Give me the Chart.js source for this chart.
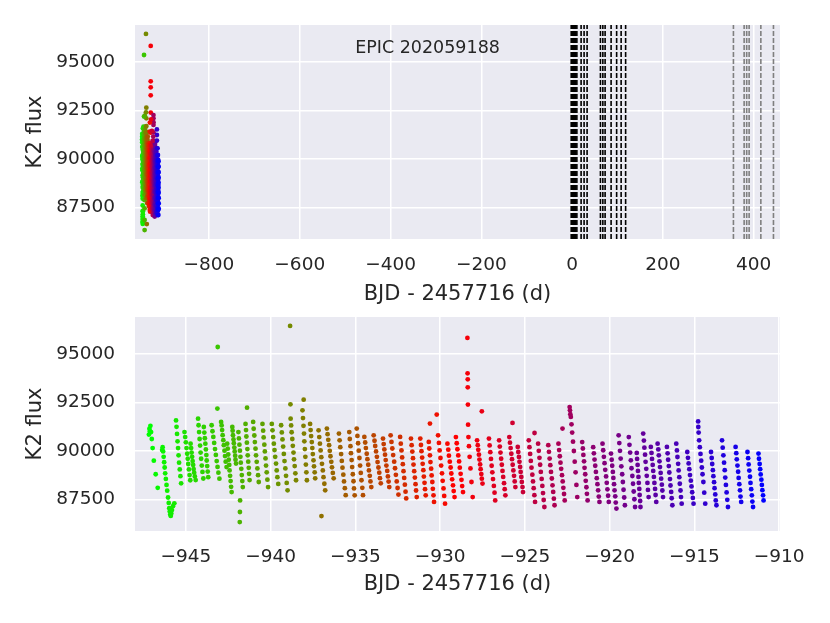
<!DOCTYPE html>
<html lang="en">
<head>
<meta charset="UTF-8">
<title>EPIC 202059188 - K2 flux</title>
<script src="https://cdn.jsdelivr.net/npm/chart.js"></script>
<style>
    body { margin: 0; background: #ffffff; }
    #wrap { position: relative; width: 830px; height: 623px; }
    canvas { position: absolute; left: 0; }
    #topChart { top: 0; width: 830px; height: 312px; }
    #zoomChart { top: 292px; width: 830px; height: 331px; }
</style>
</head>
<body>
<div id="wrap">
    <canvas id="topChart" width="830" height="312"></canvas>
    <canvas id="zoomChart" width="830" height="331"></canvas>
</div>
<script>
// light curve, one line per sawtooth streak
const bjd = [
  -947.18,-947.15,-947.12,-947.09,-947.05,-947.01,-946.96,-946.89,-946.78,-946.66,
  -946.40,-946.37,-946.34,-946.31,-946.28,-946.25,-946.22,-946.18,-946.14,-946.10,
  -946.05,-946.01,-945.98,-945.95,-945.92,-945.89,-945.86,-945.82,-945.76,-945.68,
  -945.58,-945.55,-945.52,-945.49,-945.46,-945.43,-945.40,-945.36,-945.32,-945.28,
  -945.08,-945.04,-945.00,-944.96,-944.92,-944.89,-944.86,-944.82,-944.78,-944.74,
  -944.72,-944.69,-944.66,-944.63,-944.60,-944.57,-944.54,-944.51,-944.47,-944.42,
  -944.28,-944.25,-944.22,-944.19,-944.16,-944.13,-944.10,-944.06,-944.02,-943.97,
  -943.94,-943.91,-943.88,-943.85,-943.82,-943.79,-943.77,-943.74,-943.71,-943.68,
  -943.48,-943.43,-943.38,-943.33,-943.28,-943.23,-943.18,-943.13,-943.08,-943.02,
  -942.92,-942.89,-942.86,-942.83,-942.79,-942.76,-942.72,-942.69,-942.65,-942.60,
  -942.56,-942.53,-942.50,-942.47,-942.44,-942.42,-942.39,-942.36,-942.33,-942.30,
  -942.26,-942.24,-942.22,-942.19,-942.17,-942.14,-942.12,-942.09,-942.07,-942.04,
  -941.90,-941.87,-941.84,-941.81,-941.78,-941.76,-941.73,-941.70,-941.67,-941.64,
  -941.48,-941.45,-941.43,-941.40,-941.37,-941.35,-941.32,-941.29,-941.27,-941.24,
  -941.03,-941.00,-940.96,-940.93,-940.89,-940.86,-940.82,-940.78,-940.74,-940.70,
  -940.48,-940.44,-940.41,-940.37,-940.34,-940.30,-940.27,-940.23,-940.19,-940.15,
  -939.93,-939.89,-939.85,-939.81,-939.77,-939.73,-939.68,-939.64,-939.60,-939.55,
  -939.38,-939.34,-939.30,-939.26,-939.22,-939.18,-939.13,-939.09,-939.05,-939.00,
  -938.82,-938.79,-938.76,-938.72,-938.69,-938.65,-938.62,-938.58,-938.54,-938.50,
  -938.12,-938.09,-938.06,-938.03,-938.01,-937.98,-937.95,-937.92,-937.89,-937.86,
  -937.67,-937.64,-937.61,-937.57,-937.54,-937.51,-937.47,-937.44,-937.40,-937.37,
  -937.17,-937.13,-937.09,-937.05,-937.01,-936.97,-936.92,-936.88,-936.83,-936.78,
  -936.68,-936.64,-936.60,-936.55,-936.51,-936.47,-936.42,-936.38,-936.33,-936.28,
  -935.97,-935.93,-935.89,-935.84,-935.80,-935.76,-935.71,-935.67,-935.62,-935.57,
  -935.36,-935.33,-935.29,-935.26,-935.22,-935.19,-935.15,-935.11,-935.08,-935.04,
  -934.92,-934.88,-934.84,-934.80,-934.76,-934.72,-934.68,-934.64,-934.59,-934.55,
  -934.47,-934.42,-934.38,-934.33,-934.29,-934.24,-934.20,-934.15,-934.11,-934.06,
  -933.92,-933.87,-933.83,-933.78,-933.73,-933.69,-933.64,-933.59,-933.55,-933.50,
  -933.37,-933.33,-933.29,-933.25,-933.21,-933.17,-933.12,-933.08,-933.04,-933.00,
  -932.92,-932.87,-932.82,-932.77,-932.71,-932.66,-932.61,-932.56,-932.51,-932.46,
  -932.36,-932.32,-932.28,-932.24,-932.20,-932.16,-932.12,-932.08,-932.04,-932.00,
  -931.72,-931.68,-931.64,-931.60,-931.57,-931.53,-931.49,-931.45,-931.42,-931.38,
  -931.17,-931.13,-931.10,-931.06,-931.03,-930.99,-930.96,-930.92,-930.89,-930.85,
  -930.67,-930.64,-930.60,-930.57,-930.53,-930.50,-930.46,-930.43,-930.39,-930.36,
  -930.12,-930.07,-930.03,-929.98,-929.94,-929.89,-929.85,-929.80,-929.76,-929.71,
  -929.57,-929.52,-929.48,-929.43,-929.38,-929.34,-929.29,-929.24,-929.20,-929.15,
  -929.07,-929.02,-928.98,-928.93,-928.88,-928.84,-928.79,-928.74,-928.70,-928.65,
  -928.39,-928.38,-928.37,-928.37,-928.36,-928.35,-928.33,-928.30,-928.26,-928.21,-928.15,-928.08,
  -927.82,-927.78,-927.75,-927.71,-927.68,-927.64,-927.61,-927.57,-927.54,-927.50,
  -927.12,-927.08,-927.04,-927.00,-926.96,-926.92,-926.88,-926.83,-926.79,-926.75,
  -926.52,-926.48,-926.44,-926.40,-926.36,-926.32,-926.28,-926.23,-926.19,-926.15,
  -925.92,-925.88,-925.84,-925.80,-925.76,-925.72,-925.68,-925.64,-925.60,-925.56,
  -925.42,-925.39,-925.35,-925.32,-925.28,-925.25,-925.21,-925.18,-925.14,-925.11,
  -924.77,-924.73,-924.69,-924.65,-924.61,-924.56,-924.52,-924.48,-924.44,-924.40,
  -924.22,-924.18,-924.14,-924.10,-924.06,-924.01,-923.97,-923.93,-923.89,-923.85,
  -923.62,-923.58,-923.54,-923.50,-923.46,-923.41,-923.37,-923.33,-923.29,-923.25,
  -923.02,-922.98,-922.94,-922.90,-922.86,-922.81,-922.77,-922.73,-922.69,-922.65,
  -922.36,-922.34,-922.32,-922.29,-922.25,-922.21,-922.16,-922.11,-922.06,-922.01,-921.96,-921.91,
  -921.62,-921.58,-921.55,-921.51,-921.48,-921.44,-921.41,-921.37,-921.34,-921.30,
  -920.97,-920.93,-920.89,-920.85,-920.81,-920.76,-920.72,-920.68,-920.64,-920.60,
  -920.42,-920.38,-920.34,-920.30,-920.26,-920.21,-920.17,-920.13,-920.09,-920.05,
  -919.92,-919.88,-919.85,-919.81,-919.78,-919.74,-919.71,-919.67,-919.64,-919.60,
  -919.47,-919.43,-919.39,-919.35,-919.31,-919.26,-919.22,-919.18,-919.14,-919.10,
  -918.87,-918.83,-918.79,-918.75,-918.71,-918.66,-918.62,-918.58,-918.54,-918.50,
  -918.40,-918.38,-918.35,-918.33,-918.30,-918.28,-918.25,-918.23,-918.20,-918.18,
  -918.02,-917.98,-917.95,-917.91,-917.88,-917.84,-917.81,-917.77,-917.74,-917.70,
  -917.57,-917.53,-917.50,-917.46,-917.43,-917.39,-917.36,-917.32,-917.29,-917.25,
  -917.17,-917.13,-917.10,-917.06,-917.03,-916.99,-916.96,-916.92,-916.89,-916.85,
  -916.62,-916.58,-916.55,-916.51,-916.48,-916.44,-916.41,-916.37,-916.34,-916.30,
  -916.07,-916.03,-916.00,-915.96,-915.93,-915.89,-915.86,-915.82,-915.79,-915.75,
  -915.42,-915.38,-915.34,-915.30,-915.26,-915.21,-915.17,-915.13,-915.09,-915.05,
  -914.78,-914.77,-914.75,-914.72,-914.68,-914.64,-914.60,-914.56,-914.52,-914.47,-914.42,-914.36,
  -914.02,-913.98,-913.95,-913.91,-913.88,-913.84,-913.81,-913.77,-913.74,-913.70,
  -913.37,-913.33,-913.29,-913.25,-913.21,-913.18,-913.14,-913.10,-913.06,-913.02,
  -912.57,-912.53,-912.50,-912.46,-912.42,-912.39,-912.35,-912.31,-912.28,-912.24,
  -911.87,-911.83,-911.80,-911.76,-911.72,-911.69,-911.65,-911.61,-911.58,-911.54,
  -911.22,-911.19,-911.15,-911.12,-911.09,-911.05,-911.02,-910.99,-910.95,-910.92,
  // outliers
  -943.14,-943.12,-941.82,-941.81,-941.80,-941.39,-938.85,-938.83,-938.05,-937.00,-930.60,-930.20,-927.54,-925.73,-924.43,-922.78
];
const flux = [
  90850,91150,91020,91300,90980,90620,90150,89500,88800,88100,
  90050,90200,89980,89700,89420,89150,88850,88560,88250,87950,
  87600,87320,87050,86880,86720,86650,86780,86950,87150,87300,
  91580,91250,90880,90500,90150,89780,89400,89050,88700,88330,
  90980,90720,90450,90150,89860,89600,89330,89050,88760,88490,
  90380,90150,89920,89700,89480,89280,89070,88880,88690,88500,
  91670,91330,90980,90620,90280,89920,89600,89250,88920,88580,
  91240,90950,90660,90380,90080,89790,89510,89220,88940,88650,
  91330,91020,90730,90420,90100,89800,89480,89180,88880,88570,
  91500,91320,91080,90820,90560,90300,90020,89740,89450,89170,
  90380,90120,89820,89550,89280,89000,88720,88450,88150,87880,
  91240,91050,90820,90600,90400,90180,89980,89760,89550,89350,
  90980,90650,90330,90020,89700,89400,89080,88760,88450,88140,
  91400,91080,90750,90430,90100,89780,89450,89130,88820,88500,
  91500,91150,90800,90460,90120,89780,89440,89100,88750,88400,
  91400,91050,90700,90330,89980,89620,89250,88900,88520,88140,
  91400,91070,90720,90380,90050,89700,89350,89000,88650,88300,
  91330,90960,90600,90230,89850,89480,89100,88720,88350,87970,
  91670,91320,90970,90620,90270,89920,89570,89220,88850,88490,
  92100,91700,91300,90900,90500,90100,89700,89300,88900,88490,
  91400,91080,90770,90460,90150,89840,89520,89210,88900,88590,
  91070,90720,90380,90030,89680,89340,89000,88650,88310,87970,
  91160,90870,90580,90300,90010,89730,89440,89160,88870,88590,
  90900,90550,90200,89840,89490,89140,88780,88430,88080,87720,
  90980,90620,90250,89890,89530,89170,88800,88440,88070,87710,
  91160,90780,90400,90020,89640,89250,88870,88490,88100,87720,
  90730,90440,90150,89860,89580,89290,89000,88720,88430,88140,
  90810,90530,90260,89980,89700,89430,89150,88880,88600,88330,
  90640,90360,90080,89810,89530,89250,88970,88690,88420,88140,
  90810,90470,90130,89790,89450,89110,88770,88430,88090,87750,
  90730,90380,90030,89670,89320,88960,88610,88260,87900,87550,
  90640,90300,89970,89630,89300,88960,88630,88290,87960,87620,
  90640,90310,89990,89660,89340,89010,88680,88360,88030,87710,
  90470,90130,89780,89430,89090,88740,88400,88050,87710,87370,
  90810,90420,90030,89640,89250,88850,88460,88070,87680,87280,
  90380,90070,89760,89450,89150,88840,88540,88230,87930,87620,
  90720,90400,90090,89770,89460,89140,88820,88510,88190,87880,
  95840,94010,93700,93290,92400,91360,90720,90250,89700,89100,88400,87620,
  90550,90300,90060,89810,89560,89310,89060,88810,88570,88320,
  90640,90290,89940,89590,89240,88900,88550,88200,87850,87450,
  90550,90230,89920,89600,89290,88970,88660,88340,88030,87710,
  90720,90430,90150,89860,89580,89290,89000,88720,88430,88140,
  90210,89950,89690,89440,89180,88920,88660,88400,88140,87880,
  90550,90200,89850,89490,89140,88780,88430,88080,87720,87370,
  90380,90010,89650,89290,88920,88560,88200,87830,87470,87110,
  90300,89960,89610,89270,88920,88580,88230,87890,87540,87200,
  90380,90050,89730,89400,89080,88750,88430,88100,87780,87450,
  92270,92100,91900,91760,91380,90950,90480,90000,89450,88900,88250,87620,
  90460,90130,89800,89470,89130,88800,88460,88130,87790,87450,
  90200,89880,89560,89240,88920,88600,88290,87970,87650,87370,
  90380,90040,89700,89370,89030,88690,88360,88020,87690,87370,
  89870,89550,89240,88920,88610,88290,87970,87660,87340,87030,
  90810,90410,90010,89610,89210,88800,88400,88000,87600,87200,
  90720,90320,89920,89520,89110,88710,88310,87910,87510,87110,
  89900,89590,89280,88970,88660,88350,88040,87730,87420,87110,
  90900,90540,90170,89810,89440,89080,88720,88350,87990,87620,
  90210,89900,89590,89280,88970,88660,88350,88040,87730,87370,
  90380,90080,89780,89470,89170,88870,88570,88260,87960,87620,
  90210,89880,89550,89220,88890,88550,88220,87890,87560,87200,
  90380,90030,89690,89340,89000,88650,88310,87960,87620,87280,
  89950,89650,89360,89060,88760,88470,88170,87870,87580,87280,
  91530,91240,90950,90550,90200,89850,89500,89150,88800,88400,87850,87280,
  89950,89640,89330,89010,88700,88390,88080,87760,87450,87200,
  90550,90170,89780,89400,89010,88630,88250,87860,87480,87110,
  90210,89890,89570,89250,88930,88610,88290,87970,87650,87370,
  89950,89630,89310,88990,88670,88350,88030,87710,87390,87110,
  89870,89600,89330,89060,88790,88520,88250,87980,87710,87450,
  // outliers
  92190,95370,86330,86850,87450,92240,96460,92410,92650,86640,91415,91880,92050,91450,90930,91160
];

const yTicks = [87500, 90000, 92500, 95000];
const topTicks = [-800, -600, -400, -200, 0, 200, 400];
const zoomTicks = [-945, -940, -935, -930, -925, -920, -915, -910];
const blackLines = [-2, 0.5, 3, 5.5, 8, 10.5, 19.8, 26.4, 33, 62.4, 67.7, 72.7, 85.9, 98.1, 108, 117.9];
const grayLines = [355.4, 379, 384.6, 390, 415.8, 443.6];
const targetName = 'EPIC 202059188';

const yMin = 85870, yMax = 96920;
const FONT = 'DejaVu Sans';
const INK = '#262626';

// matplotlib brg_r: green -> red -> blue over time
const t0 = Math.min(...bjd), t1 = Math.max(...bjd);
function brgR(t) {
    const f = (t - t0) / (t1 - t0);
    let r, g, b;
    if (f < 0.5) { r = 2 * f; g = 1 - 2 * f; b = 0; }
    else { r = 2 - 2 * f; g = 0; b = 2 * f - 1; }
    return 'rgb(' + Math.round(r * 255) + ',' + Math.round(g * 255) + ',' + Math.round(b * 255) + ')';
}
const pointColors = bjd.map(brgR);
const points = bjd.map((t, i) => ({ x: t, y: flux[i] }));

const minusFmt = v => v < 0 ? '\u2212' + Math.abs(v) : String(v);

const bgPlugin = {
    id: 'darkgrid',
    beforeDraw(chart) {
        const { ctx, chartArea: a } = chart;
        ctx.save();
        ctx.fillStyle = '#EAEAF2';
        ctx.fillRect(a.left, a.top, a.right - a.left, a.bottom - a.top);
        ctx.restore();
    }
};

const labelPlugin = {
    id: 'targetLabel',
    afterDatasetsDraw(chart, args, opts) {
        if (!opts.text) return;
        const { ctx, scales } = chart;
        ctx.save();
        ctx.font = '17.5px "' + FONT + '"';
        ctx.fillStyle = INK;
        ctx.textAlign = 'left';
        ctx.textBaseline = 'middle';
        ctx.fillText(opts.text, scales.x.getPixelForValue(opts.x), scales.y.getPixelForValue(opts.y));
        ctx.restore();
    }
};

function vline(x, color) {
    return {
        type: 'line',
        data: [{ x: x, y: yMin }, { x: x, y: yMax }],
        borderColor: color,
        borderWidth: 1.6,
        borderDash: [5, 2],
        pointRadius: 0,
        fill: false
    };
}

function makeChart(id, xMin, xMax, xTicks, axisH, titlePad, withLines) {
    const datasets = [{
        type: 'scatter',
        data: points,
        backgroundColor: pointColors,
        pointRadius: 2.4,
        pointBorderWidth: 0,
        borderWidth: 0
    }];
    if (withLines) {
        blackLines.forEach(x => datasets.push(vline(x, '#000000')));
        grayLines.forEach(x => datasets.push(vline(x, '#7f7f7f')));
    }
    return new Chart(document.getElementById(id), {
        type: 'scatter',
        data: { datasets: datasets },
        plugins: [bgPlugin, labelPlugin],
        options: {
            responsive: false,
            devicePixelRatio: 1,
            animation: false,
            events: [],
            layout: { padding: { top: 25, right: 50, left: 0, bottom: 0 } },
            plugins: {
                legend: { display: false },
                tooltip: { enabled: false },
                targetLabel: withLines ? { text: targetName, x: -478, y: 95690 } : {}
            },
            scales: {
                x: {
                    type: 'linear',
                    min: xMin,
                    max: xMax,
                    afterBuildTicks: s => { s.ticks = xTicks.map(v => ({ value: v })); },
                    afterFit: s => { s.height = axisH; s.paddingLeft = 0; s.paddingRight = 0; },
                    grid: { color: '#ffffff', lineWidth: 1.5, drawTicks: false },
                    border: { display: false },
                    ticks: { callback: minusFmt, color: INK, padding: 15, maxRotation: 0, font: { family: FONT, size: 18.5 } },
                    title: { display: true, text: 'BJD - 2457716 (d)', color: INK, padding: { top: 0, bottom: titlePad }, font: { family: FONT, size: 21 } }
                },
                y: {
                    type: 'linear',
                    min: yMin,
                    max: yMax,
                    afterBuildTicks: s => { s.ticks = yTicks.map(v => ({ value: v })); },
                    afterFit: s => { s.width = 135; s.paddingTop = 0; s.paddingBottom = 0; },
                    grid: { color: '#ffffff', lineWidth: 1.5, drawTicks: false },
                    border: { display: false },
                    ticks: { callback: v => String(v), color: INK, padding: 20, font: { family: FONT, size: 18.5 } },
                    title: { display: true, text: 'K2 flux', color: INK, padding: { top: 23, bottom: 0 }, font: { family: FONT, size: 21 } }
                }
            }
        }
    });
}

makeChart('topChart', -963, 458, topTicks, 73, 5, true);
makeChart('zoomChart', -948.0, -909.95, zoomTicks, 92, 26, false);
</script>
</body>
</html>
